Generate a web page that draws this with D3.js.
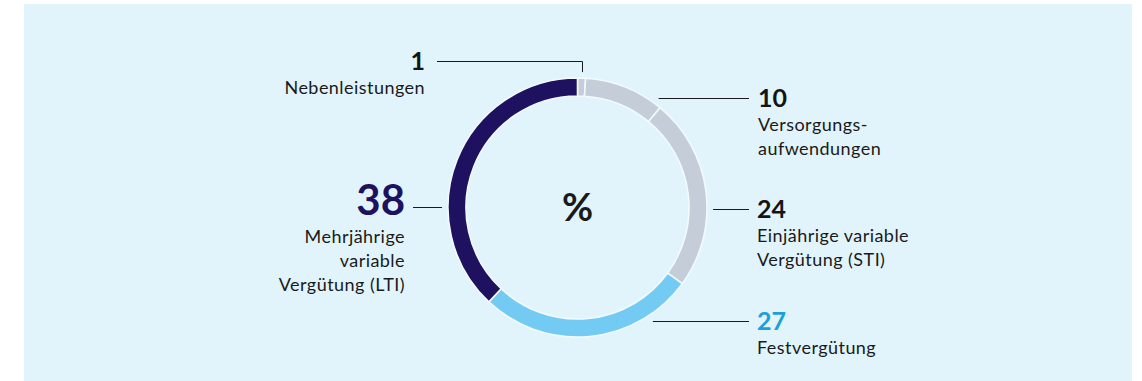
<!DOCTYPE html>
<html lang="de">
<head>
<meta charset="utf-8">
<script src="https://cdn.jsdelivr.net/npm/d3@7"></script>
<style>
  html, body { margin: 0; padding: 0; background: #ffffff; }
  svg { display: block; }
  text { font-family: Lato, "Open Sans", sans-serif; }
</style>
</head>
<body>
<svg id="chart" width="1142" height="381"></svg>
<script>
// Vergütungsbestandteile in % (im Uhrzeigersinn ab 12 Uhr)
const categories = [
  "Nebenleistungen",
  "Versorgungsaufwendungen",
  "Einjährige variable Vergütung (STI)",
  "Festvergütung",
  "Mehrjährige variable Vergütung (LTI)"
];
const values = [1, 10, 24, 27, 38];
const labelLines = [
  ["Nebenleistungen"],
  ["Versorgungs-", "aufwendungen"],
  ["Einjährige variable", "Vergütung (STI)"],
  ["Festvergütung"],
  ["Mehrjährige", "variable", "Vergütung (LTI)"]
];
const centerLabel = "%";

// Darstellung
const colors = ["#c5ced8", "#c5ced8", "#c5ced8", "#73cbf3", "#1e1160"];
const numberColors = ["#141414", "#141414", "#141414", "#1ba0da", "#1e1160"];
const numberSizes = [25, 25, 25, 25, 42];

// Platzierung der Beschriftungen: Seite, Höhe der Führungslinie, Textanker
const labelLayout = [
  { side: "left",  lineY: 61,  textX: 425, gap: 0,  lineEnd: 437, elbow: true },
  { side: "right", lineY: 98,  textX: 758, gap: 12, lineEnd: 749 },
  { side: "right", lineY: 209, textX: 757, gap: 6,  lineEnd: 749 },
  { side: "right", lineY: 321, textX: 757, gap: 13, lineEnd: 749 },
  { side: "left",  lineY: 207, textX: 405, gap: 6,  lineEnd: 413 }
];

const W = 1142, H = 381;
const cx = 577.5, cy = 207.5;
const outerR = 129.5, innerR = 111.5;

const svg = d3.select("#chart");

// Hintergrundfläche
svg.append("rect")
  .attr("x", 24).attr("y", 4)
  .attr("width", 1108).attr("height", H - 4)
  .attr("fill", "#e1f4fc");

const g = svg.append("g").attr("transform", `translate(${cx},${cy})`);

const pie = d3.pie().sort(null).value(d => d);
const arcs = pie(values);
const arc = d3.arc().innerRadius(innerR).outerRadius(outerR);

g.selectAll("path.slice")
  .data(arcs)
  .join("path")
  .attr("class", "slice")
  .attr("d", arc)
  .attr("fill", (d, i) => colors[i])
  .attr("stroke", "#f2fafd")
  .attr("stroke-width", 1.6)
  .attr("stroke-linejoin", "miter");

// Mittelbeschriftung
g.append("text")
  .attr("x", 0).attr("y", 13)
  .attr("text-anchor", "middle")
  .attr("font-size", 38)
  .attr("font-weight", 700)
  .attr("fill", "#1a1a1a")
  .text(centerLabel);

// Führungslinien und Beschriftungen
const ann = svg.append("g");
arcs.forEach((a, i) => {
  const L = labelLayout[i];
  const mid = (a.startAngle + a.endAngle) / 2;
  const ly = L.lineY + 0.5;
  let pathD;
  if (L.elbow) {
    // Linie vom Segment senkrecht nach oben, dann waagerecht zur Zahl
    const px = Math.round(cx + Math.sin(mid) * outerR) + 0.5;
    const py = cy - Math.cos(mid) * outerR;
    pathD = `M${px},${py - 6}V${ly}H${L.lineEnd}`;
  } else {
    const dy = L.lineY - cy;
    const dx = Math.sqrt(Math.max(outerR * outerR - dy * dy, 0));
    const sx = L.side === "right" ? cx + dx + L.gap : cx - dx - L.gap;
    pathD = `M${sx},${ly}H${L.lineEnd}`;
  }
  ann.append("path")
    .attr("d", pathD)
    .attr("fill", "none")
    .attr("stroke", "#1a1a1a")
    .attr("stroke-width", 1);

  const anchor = L.side === "right" ? "start" : "end";
  const big = numberSizes[i] > 30;
  ann.append("text")
    .attr("x", L.textX)
    .attr("y", big ? L.lineY + 8 : L.lineY + 9)
    .attr("text-anchor", anchor)
    .attr("font-size", numberSizes[i])
    .attr("font-weight", 700)
    .attr("fill", numberColors[i])
    .text(values[i]);

  const firstBase = (big ? L.lineY + 36 : L.lineY + 33);
  labelLines[i].forEach((line, j) => {
    ann.append("text")
      .attr("x", L.textX)
      .attr("y", firstBase + j * 24)
      .attr("text-anchor", anchor)
      .attr("font-size", 18)
      .attr("letter-spacing", 0.45)
      .attr("fill", "#1a1a1a")
      .text(line);
  });
});
</script>
</body>
</html>
